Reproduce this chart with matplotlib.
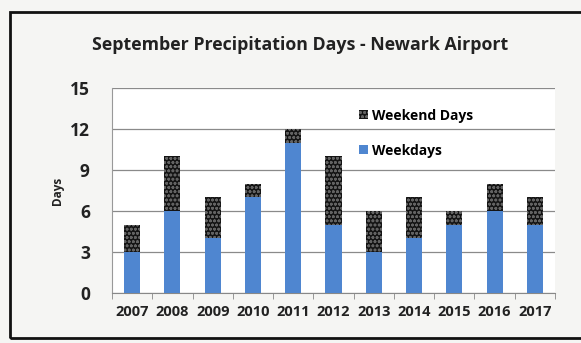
import numpy as np
import matplotlib.pyplot as plt
from matplotlib.patches import Rectangle

# Datos de días con precipitación en septiembre
years = ['2007', '2008', '2009', '2010', '2011', '2012', '2013', '2014', '2015', '2016', '2017']
weekdays = [3, 6, 4, 7, 11, 5, 3, 4, 5, 6, 5]
weekend_days = [2, 4, 3, 1, 1, 5, 3, 3, 1, 2, 2]
y_ticks = [0, 3, 6, 9, 12, 15]

plt.rcParams['font.family'] = ['Open Sans', 'DejaVu Sans']
plt.rcParams['hatch.linewidth'] = 0.8

fig = plt.figure(figsize=(5.81, 3.43), dpi=100, facecolor='#f5f5f3')
ax = fig.add_axes([112 / 581, 1 - 293 / 343, 443 / 581, 205 / 343])
ax.set_facecolor('white')

x = np.arange(len(years))
ax.bar(x, weekdays, width=0.4, color='#4f86d0', label='Weekdays', zorder=3)
ax.bar(x, weekend_days, bottom=weekdays, width=0.4, facecolor='#141414',
       edgecolor='#626262', hatch='oooo', linewidth=0, label='Weekend Days', zorder=3)

ax.set_xlim(-0.5, len(years) - 0.5)
ax.set_ylim(0, 15)
ax.set_yticks(y_ticks)
ax.set_yticklabels([str(t) for t in y_ticks], fontsize=12.5, fontweight='bold', color='#222222')
ax.set_xticks(x)
ax.set_xticklabels(years, fontsize=10.5, fontweight='bold', color='#222222')
ax.set_xticks(np.arange(len(years) + 1) - 0.5, minor=True)
ax.tick_params(axis='x', which='major', length=0, pad=9)
ax.tick_params(axis='x', which='minor', length=4, color='#888888')
ax.tick_params(axis='y', length=0, pad=16)
ax.grid(axis='y', color='#8a8a8a', linewidth=0.9, zorder=0)

for side in ['top', 'right']:
    ax.spines[side].set_visible(False)
ax.spines['left'].set_color('#999999')
ax.spines['bottom'].set_color('#888888')

ax.set_ylabel('Days', fontsize=8.5, fontweight='bold', color='#222222', labelpad=4)

handles, labels = ax.get_legend_handles_labels()
ax.legend(handles[::-1], labels[::-1], loc='upper left', bbox_to_anchor=(0.53, 0.96),
          frameon=False, handlelength=0.6, handleheight=0.6,
          handletextpad=0.3, labelspacing=1.5, prop={'weight': 'bold', 'size': 10})

fig.text(300 / 581, 1 - 45 / 343, 'September Precipitation Days - Newark Airport',
         ha='center', va='center', fontsize=12.8, fontweight='bold', color='#222222')

# Marco exterior del gráfico (sin borde derecho visible)
fig.patches.append(Rectangle((10 / 581, 5 / 343), 600 / 581, 326 / 343, transform=fig.transFigure,
                             fill=False, edgecolor='#111111', linewidth=2))

fig.savefig('out.png', dpi=100, facecolor=fig.get_facecolor())
